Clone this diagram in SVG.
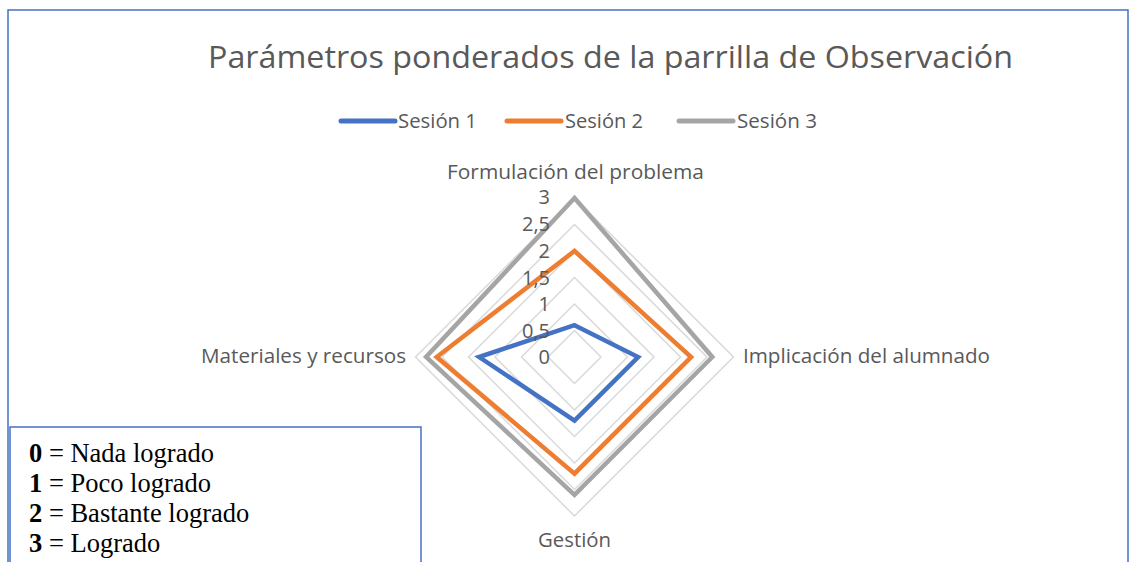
<svg xmlns="http://www.w3.org/2000/svg" width="1131" height="562" viewBox="0 0 1131 562">
<style>
.frame{fill:#fff;stroke:#4472C4;stroke-width:1.5}
.t{font-family:"Open Sans","Noto Sans","DejaVu Sans",sans-serif;fill:#595959}
.grid{fill:none;stroke:#d9d9d9;stroke-width:1.5}
.s{fill:none;stroke-width:4.5;stroke-linejoin:miter}
.leg{stroke-width:5;stroke-linecap:round}
.note{font-family:"Liberation Serif","Times New Roman",serif;font-size:26.5px;fill:#000}
</style>
<rect id="chart-frame" class="frame" x="8" y="10" width="1120" height="620"/>
<g id="title">
<text class="t" x="208" y="68" font-size="31" textLength="805" lengthAdjust="spacingAndGlyphs">Parámetros ponderados de la parrilla de Observación</text>
</g>
<g id="legend">
<line class="leg" x1="341" y1="121" x2="395" y2="121" stroke="#4472C4"/>
<text class="t" x="398" y="128" font-size="20.5" textLength="79" lengthAdjust="spacingAndGlyphs">Sesión 1</text>
<line class="leg" x1="507" y1="121" x2="561" y2="121" stroke="#ED7D31"/>
<text class="t" x="565" y="128" font-size="20.5" textLength="78" lengthAdjust="spacingAndGlyphs">Sesión 2</text>
<line class="leg" x1="679" y1="121" x2="733" y2="121" stroke="#A5A5A5"/>
<text class="t" x="737" y="128" font-size="20.5" textLength="80" lengthAdjust="spacingAndGlyphs">Sesión 3</text>
</g>
<g id="grid">
<polygon class="grid" points="574.5,330.5 601,357 574.5,383.5 548,357"/>
<polygon class="grid" points="574.5,304 627.5,357 574.5,410 521.5,357"/>
<polygon class="grid" points="574.5,277.5 654,357 574.5,436.5 495,357"/>
<polygon class="grid" points="574.5,251 680.5,357 574.5,463 468.5,357"/>
<polygon class="grid" points="574.5,224.5 707,357 574.5,489.5 442,357"/>
<polygon class="grid" points="574.5,198 733.5,357 574.5,516 415.5,357"/>
</g>
<g id="series">
<polygon id="sesion1" class="s" stroke="#4472C4" points="574.5,325.2 638.1,357 574.5,420.6 479.1,357"/>
<polygon id="sesion2" class="s" stroke="#ED7D31" points="574.5,251 691.1,357 574.5,473.6 436.7,357"/>
<polygon id="sesion3" class="s" stroke="#A5A5A5" stroke-width="5.5" points="574.5,198 712.3,357 574.5,494.8 426.1,357"/>
</g>
<g id="axis-values" class="t" font-size="20" text-anchor="end">
<text x="550" y="204">3</text>
<text x="550" y="231">2,5</text>
<text x="550" y="258">2</text>
<text x="550" y="285">1,5</text>
<text x="550" y="311">1</text>
<text x="550" y="338">0,5</text>
<text x="550" y="364">0</text>
</g>
<g id="categories" class="t" font-size="20.5">
<text id="cat-formulacion" x="447" y="179" textLength="257" lengthAdjust="spacingAndGlyphs">Formulación del problema</text>
<text id="cat-implicacion" x="743" y="363" textLength="247" lengthAdjust="spacingAndGlyphs">Implicación del alumnado</text>
<text id="cat-gestion" x="538" y="547" textLength="73" lengthAdjust="spacingAndGlyphs">Gestión</text>
<text id="cat-materiales" x="201" y="363" textLength="205" lengthAdjust="spacingAndGlyphs">Materiales y recursos</text>
</g>
<g id="scale-note">
<rect class="frame" x="10" y="427" width="411" height="200"/>
<text class="note" x="29" y="462"><tspan font-weight="bold">0</tspan> = Nada logrado</text>
<text class="note" x="29" y="492"><tspan font-weight="bold">1</tspan> = Poco logrado</text>
<text class="note" x="29" y="522"><tspan font-weight="bold">2</tspan> = Bastante logrado</text>
<text class="note" x="29" y="552"><tspan font-weight="bold">3</tspan> = Logrado</text>
</g>
</svg>
